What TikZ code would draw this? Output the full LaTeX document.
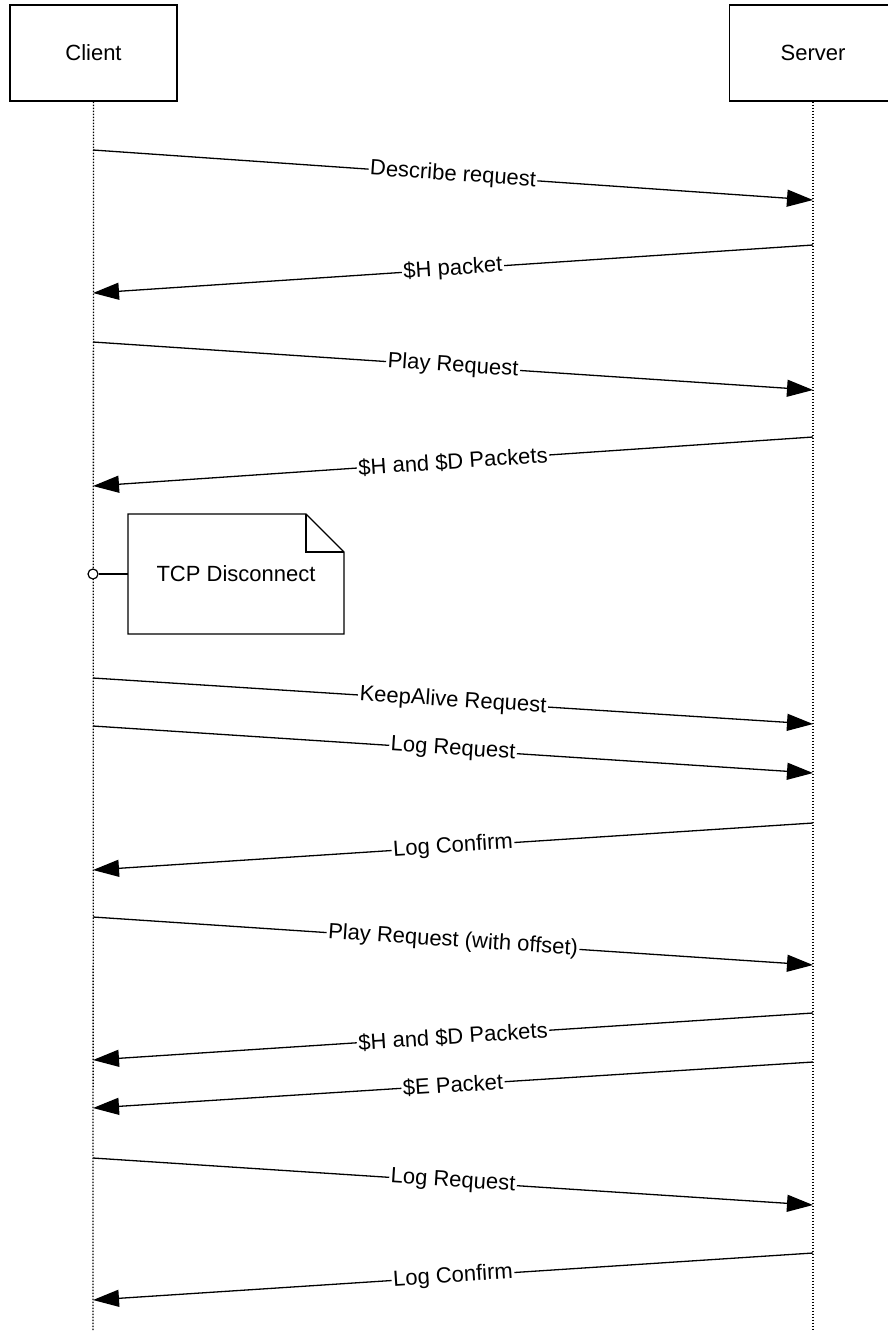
\documentclass[tikz,border=0pt]{standalone}
\usepackage{fontspec}
\setmainfont{Liberation Sans}
\usetikzlibrary{arrows.meta}
\begin{document}
\begin{tikzpicture}[x=1pt,y=-1pt,
  every node/.style={font=\fontsize{22}{26}\selectfont},
  actor/.style={draw,line width=1.3pt,minimum width=167pt,minimum height=96pt,inner sep=0pt},
  lifeline/.style={line width=1.3pt,dash pattern=on 1.5pt off 1.5pt},
  msg/.style={line width=1.3pt,-{Triangle[length=26pt,width=17pt]}},
  lbl/.style={sloped,fill=white,inner sep=1.5pt,pos=0.5},
  note/.style={line width=1.3pt}]
\useasboundingbox (0,0) rectangle (888,1331);
\fill[white] (0,0) rectangle (888,1331);
\node[actor] (client) at (93.5,53) {Client};
\node[actor] (server) at (813,53) {Server};
\coordinate (cend) at (93,1331);
\coordinate (send) at (813,1331);
\draw[lifeline] (client.south) -- (cend);
\draw[lifeline] (server.south) -- (send);
% messages
\coordinate (c1) at (93,150);  \coordinate (s1) at (813,200);
\coordinate (s2) at (813,245); \coordinate (c2) at (93,293);
\coordinate (c3) at (93,342);  \coordinate (s3) at (813,390);
\coordinate (s4) at (813,437); \coordinate (c4) at (93,486);
\coordinate (c6) at (93,678);  \coordinate (s6) at (813,724);
\coordinate (c7) at (93,726);  \coordinate (s7) at (813,773);
\coordinate (s8) at (813,823); \coordinate (c8) at (93,870);
\coordinate (c9) at (93,917);  \coordinate (s9) at (813,965);
\coordinate (s10) at (813,1013); \coordinate (c10) at (93,1060);
\coordinate (s11) at (813,1062); \coordinate (c11) at (93,1108);
\coordinate (c12) at (93,1158); \coordinate (s12) at (813,1205);
\coordinate (s13) at (813,1253); \coordinate (c13) at (93,1300);
\draw[msg] (c1) -- node[lbl] (m1) {Describe request} (s1);
\draw[msg] (s2) -- node[lbl] (m2) {\$H packet} (c2);
\draw[msg] (c3) -- node[lbl] (m3) {Play Request} (s3);
\draw[msg] (s4) -- node[lbl] (m4) {\$H and \$D Packets} (c4);
\draw[msg] (c6) -- node[lbl] (m6) {KeepAlive Request} (s6);
\draw[msg] (c7) -- node[lbl] (m7) {Log Request} (s7);
\draw[msg] (s8) -- node[lbl] (m8) {Log Confirm} (c8);
\draw[msg] (c9) -- node[lbl] (m9) {Play Request (with offset)} (s9);
\draw[msg] (s10) -- node[lbl] (m10) {\$H and \$D Packets} (c10);
\draw[msg] (s11) -- node[lbl] (m11) {\$E Packet} (c11);
\draw[msg] (c12) -- node[lbl] (m12) {Log Request} (s12);
\draw[msg] (s13) -- node[lbl] (m13) {Log Confirm} (c13);
% note
\draw[note,fill=white] (128,514) -- (306,514) -- (344,552) -- (344,634) -- (128,634) -- cycle;
\draw[note] (306,514) -- (306,552) -- (344,552);
\node (notetext) at (236,574) {TCP Disconnect};
\node[circle,draw,line width=1.2pt,fill=white,minimum size=10pt,inner sep=0pt] (dot) at (93,574) {};
\coordinate (noteleft) at (128,574);
\draw[note] (dot.east) -- (noteleft);
\end{tikzpicture}
\end{document}
